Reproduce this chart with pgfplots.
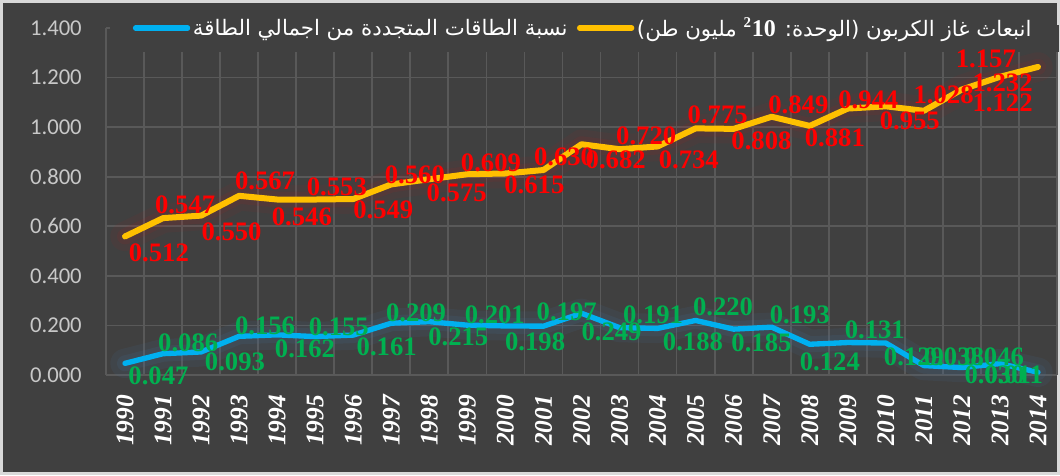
\documentclass[border=0pt]{standalone}
\usepackage{fontspec}
\setmainfont{Liberation Serif}
\newfontfamily\arabicfont[Script=Arabic]{DejaVu Sans}
\newfontfamily\calibri{Carlito}
\TeXXeTstate=1
\usepackage{pgfplots}
\pgfplotsset{compat=1.18}
\usepackage{pgfplotstable}

\definecolor{bg}{RGB}{64,64,64}
\definecolor{gridc}{RGB}{89,89,89}
\definecolor{yel}{RGB}{255,192,0}
\definecolor{blu}{RGB}{0,176,240}
\definecolor{grn}{RGB}{0,176,80}
\definecolor{tickc}{RGB}{200,200,200}
\definecolor{brd}{RGB}{217,217,217}
\definecolor{yglow}{RGB}{150,40,40}
\definecolor{bglow}{RGB}{70,110,150}

\pgfplotstableread{
x blue red
0 0.047 0.512
1 0.086 0.547
2 0.093 0.550
3 0.156 0.567
4 0.162 0.546
5 0.155 0.553
6 0.161 0.549
7 0.209 0.560
8 0.215 0.575
9 0.201 0.609
10 0.198 0.615
11 0.197 0.630
12 0.249 0.682
13 0.191 0.720
14 0.188 0.734
15 0.220 0.775
16 0.185 0.808
17 0.193 0.849
18 0.124 0.881
19 0.131 0.944
20 0.129 0.955
21 0.038 1.028
22 0.030 1.122
23 0.046 1.157
24 0.011 1.232
}\data

\pgfplotstableread{
x y t
0.89 0.494 0.512
1.58 0.687 0.547
2.80 0.579 0.550
3.68 0.785 0.567
4.65 0.640 0.546
5.57 0.761 0.553
6.79 0.667 0.549
7.62 0.808 0.560
8.72 0.734 0.575
9.62 0.855 0.609
10.76 0.768 0.615
11.54 0.881 0.630
12.90 0.869 0.682
13.70 0.963 0.720
14.82 0.869 0.734
15.58 1.051 0.775
16.73 0.943 0.808
17.70 1.091 0.849
18.66 0.956 0.881
19.54 1.111 0.944
20.63 1.024 0.955
21.52 1.131 1.028
22.63 1.276 1.157
23.07 1.179 1.232
23.07 1.098 1.122
}\redlab

\pgfplotstableread{
x y t
0.88 -0.004 0.047
1.66 0.131 0.086
2.89 0.054 0.093
3.68 0.198 0.156
4.73 0.104 0.162
5.62 0.195 0.155
6.88 0.114 0.161
7.65 0.252 0.209
8.76 0.155 0.215
9.72 0.242 0.201
10.78 0.135 0.198
11.61 0.256 0.197
12.79 0.175 0.249
13.88 0.242 0.191
14.93 0.135 0.188
15.72 0.276 0.220
16.73 0.128 0.185
17.74 0.242 0.193
18.53 0.054 0.124
19.71 0.182 0.131
20.74 0.074 0.129
21.79 0.074 0.038
22.84 0.074 0.046
22.86 0.000 0.030
23.36 0.000 0.011
}\grnlab

\begin{document}
\begin{tikzpicture}
\fill[bg] (-79.5pt,-75pt) rectangle (715.5pt,281.25pt);
\useasboundingbox (-79.5pt,-75pt) rectangle (715.5pt,281.25pt);
\draw[brd, line width=2pt] (-78.5pt,-74pt) rectangle (714.5pt,280.25pt);
\begin{axis}[
  scale only axis, width=713.25pt, height=260.25pt,
  at={(0,0)}, anchor=south west,
  xmin=-0.5, xmax=24.5, ymin=0, ymax=1.4,
  clip=false,
  axis line style={draw=none},
  xtick={0,1,2,3,4,5,6,7,8,9,10,11,12,13,14,15,16,17,18,19,20,21,22,23,24},
  xticklabels={1990,1991,1992,1993,1994,1995,1996,1997,1998,1999,2000,2001,2002,2003,2004,2005,2006,2007,2008,2009,2010,2011,2012,2013,2014},
  minor xtick={-0.5,0.5,...,24.5},
  ytick={0,0.2,0.4,0.6,0.8,1.0,1.2,1.4},
  xminorgrids=true, ymajorgrids=true, xmajorgrids=false,
  grid style={gridc, line width=1.3pt},
  minor grid style={gridc, line width=1.3pt},
  major tick length=0pt, minor tick length=0pt,
  yticklabel style={anchor=east, inner sep=0pt, xshift=-18pt, text=tickc,
     font=\calibri\fontsize{17}{20}\selectfont,
     /pgf/number format/.cd, fixed, fixed zerofill, precision=3, assume math mode=true},
  xticklabel style={yshift=-15pt, rotate=90, anchor=east, inner sep=0pt, text=white,
     font=\bfseries\itshape\fontsize{19}{22}\selectfont},
  legend style={at={(rel axis cs:0.028,1.0)}, anchor=west, draw=none, fill=none,
     text=white, inner sep=0pt, font=\arabicfont\fontsize{16}{19}\selectfont,
     /tikz/every even column/.append style={column sep=5pt}},
  legend columns=2,
  legend image code/.code={\draw[#1, line width=4pt, line cap=round] (0pt,0pt) -- (39pt,0pt);},
]
\fill[bg] (rel axis cs:0.004,0.931) rectangle (rel axis cs:1.002,1.01);

\addplot[forget plot, yglow, opacity=0.10, line width=22pt, line join=round, line cap=round]
  table[x=x, y expr=\thisrow{blue}+\thisrow{red}] {\data};
\addplot[forget plot, yglow, opacity=0.15, line width=12pt, line join=round, line cap=round]
  table[x=x, y expr=\thisrow{blue}+\thisrow{red}] {\data};
\addplot[forget plot, bglow, opacity=0.12, line width=22pt, line join=round, line cap=round]
  table[x=x, y=blue] {\data};
\addplot[forget plot, bglow, opacity=0.15, line width=12pt, line join=round, line cap=round]
  table[x=x, y=blue] {\data};

\addplot[forget plot, only marks, mark=none, point meta=explicit symbolic,
  nodes near coords,
  every node near coord/.append style={anchor=center, inner sep=0pt, text=red,
    font=\bfseries\fontsize{20}{24}\selectfont}]
  table[x=x, y=y, meta=t] {\redlab};
\addplot[forget plot, only marks, mark=none, point meta=explicit symbolic,
  nodes near coords,
  every node near coord/.append style={anchor=center, inner sep=0pt, text=grn,
    font=\bfseries\fontsize{20}{24}\selectfont}]
  table[x=x, y=y, meta=t] {\grnlab};

\addplot[blu, line width=4pt, line join=round, line cap=round] table[x=x, y=blue] {\data};
\addlegendentry{\beginR نسبة الطاقات المتجددة من اجمالي الطاقة\endR}
\addplot[yel, line width=4.5pt, line join=round, line cap=round]
  table[x=x, y expr=\thisrow{blue}+\thisrow{red}] {\data};
\addlegendentry{\beginR انبعاث غاز الكربون (الوحدة: \beginL\textsuperscript{\rmfamily\bfseries 2}{\rmfamily\bfseries\fontsize{18}{20}\selectfont 10}\endL{} مليون طن)\endR}
\end{axis}
\end{tikzpicture}
\end{document}
